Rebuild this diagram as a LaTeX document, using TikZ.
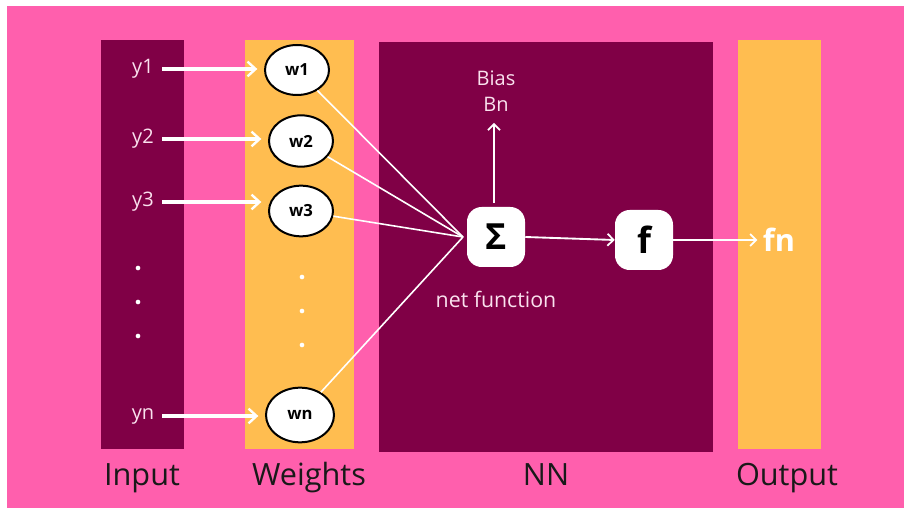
\documentclass[tikz,border=0pt]{standalone}
\usepackage{fontspec}
\setmainfont{Open Sans}
\usetikzlibrary{arrows.meta,shapes.geometric}
\definecolor{bgpink}{RGB}{255,95,173}
\definecolor{plum}{RGB}{128,0,70}
\definecolor{amber}{RGB}{255,189,80}
\definecolor{palepink}{RGB}{250,225,238}

\begin{document}
\begin{tikzpicture}[x=0.75pt,y=-0.75pt,
  wnode/.style={ellipse,draw=black,line width=1.5pt,fill=white,inner sep=0pt,
    font=\bfseries\fontsize{12.5}{14}\selectfont},
  opbox/.style={rounded corners=11pt,fill=white,minimum width=43.5pt,
    minimum height=45pt,inner sep=0pt,font=\bfseries\fontsize{27}{30}\selectfont},
  inlabel/.style={text=palepink,inner sep=0pt,font=\fontsize{15}{17}\selectfont},
  inarrow/.style={white,line width=2.4pt,shorten >=5pt,shorten <=6pt,
    -{Straight Barb[length=6pt,width=11pt,line width=1.8pt]}},
  wire/.style={white,line width=1.2pt},
  thinarrow/.style={white,line width=1.4pt,
    -{Straight Barb[length=4.5pt,width=9pt,line width=1.3pt]}},
  caption/.style={anchor=base,text=black!90,font=\fontsize{23}{26}\selectfont},
  dot/.style={circle,fill=white,inner sep=0pt,minimum size=3.5pt}
]
% page and background
\useasboundingbox (0,0) rectangle (904,509);
\fill[white] (0,0) rectangle (904,509);
\fill[bgpink] (7,6) rectangle (904,508);

% columns
\fill[plum]  (101,40) rectangle (184,449);
\fill[amber] (245,40) rectangle (354,449);
\fill[plum]  (379,42) rectangle (713,452);
\fill[amber] (738,40) rectangle (821,449);

% input labels
\node[inlabel] (y1) at (143,69)  {y1};
\node[inlabel] (y2) at (143,139) {y2};
\node[inlabel] (y3) at (143,202) {y3};
\node[inlabel] (yn) at (143,416) {yn};

% weight nodes
\node[wnode,minimum width=48pt,minimum height=37.5pt] (w1) at (297,70)  {w1};
\node[wnode,minimum width=48pt,minimum height=38.5pt] (w2) at (301,141) {w2};
\node[wnode,minimum width=48pt,minimum height=38pt]   (w3) at (301,211) {w3};
\node[wnode,minimum width=51pt,minimum height=41pt]   (wn) at (300,415) {wn};

% ellipsis dots
\foreach \yy in {268,302,336} \node[dot] at (138,\yy) {};
\foreach \yy in {277,311,345} \node[dot] at (302,\yy) {};

% input arrows
\draw[inarrow] (y1.east) -- (y1.east -| w1.west);
\draw[inarrow] (y2.east) -- (y2.east -| w2.west);
\draw[inarrow] (y3.east) -- (y3.east -| w3.west);
\draw[inarrow] (yn.east) -- (yn.east -| wn.west);

% summation and activation
\node[opbox] (S) at (496,237) {Σ};
\node[opbox] (F) at (644,240) {f};
\coordinate (sin) at (463,237);

% weighted connections into the sum
\draw[wire] (w1) -- (sin);
\draw[wire] (w2) -- (sin);
\draw[wire] (w3) -- (sin);
\draw[wire] (wn) -- (sin);

% bias
\node[text=palepink,align=center,font=\fontsize{15}{19.5}\selectfont] (bias) at (496,91) {Bias\\Bn};
\draw[thinarrow] ([yshift=3pt]S.north -| 494,0) -- (494,123);

% net function label
\node[text=palepink,font=\fontsize{16}{18}\selectfont] (net) at (496,299) {net function};

% output path
\node[text=white,inner sep=0pt,font=\bfseries\fontsize{23}{26}\selectfont] (fn) at (779,240) {fn};
\draw[thinarrow] (S.east) -- (F.west);
\draw[thinarrow] (F.east) -- ([xshift=-4pt]fn.west);

% column captions
\node[caption] (capin)  at (142,486) {Input};
\node[caption] (capw)   at (309,486) {Weights};
\node[caption] (capnn)  at (546,486) {NN};
\node[caption] (capout) at (787,486) {Output};
\end{tikzpicture}
\end{document}
